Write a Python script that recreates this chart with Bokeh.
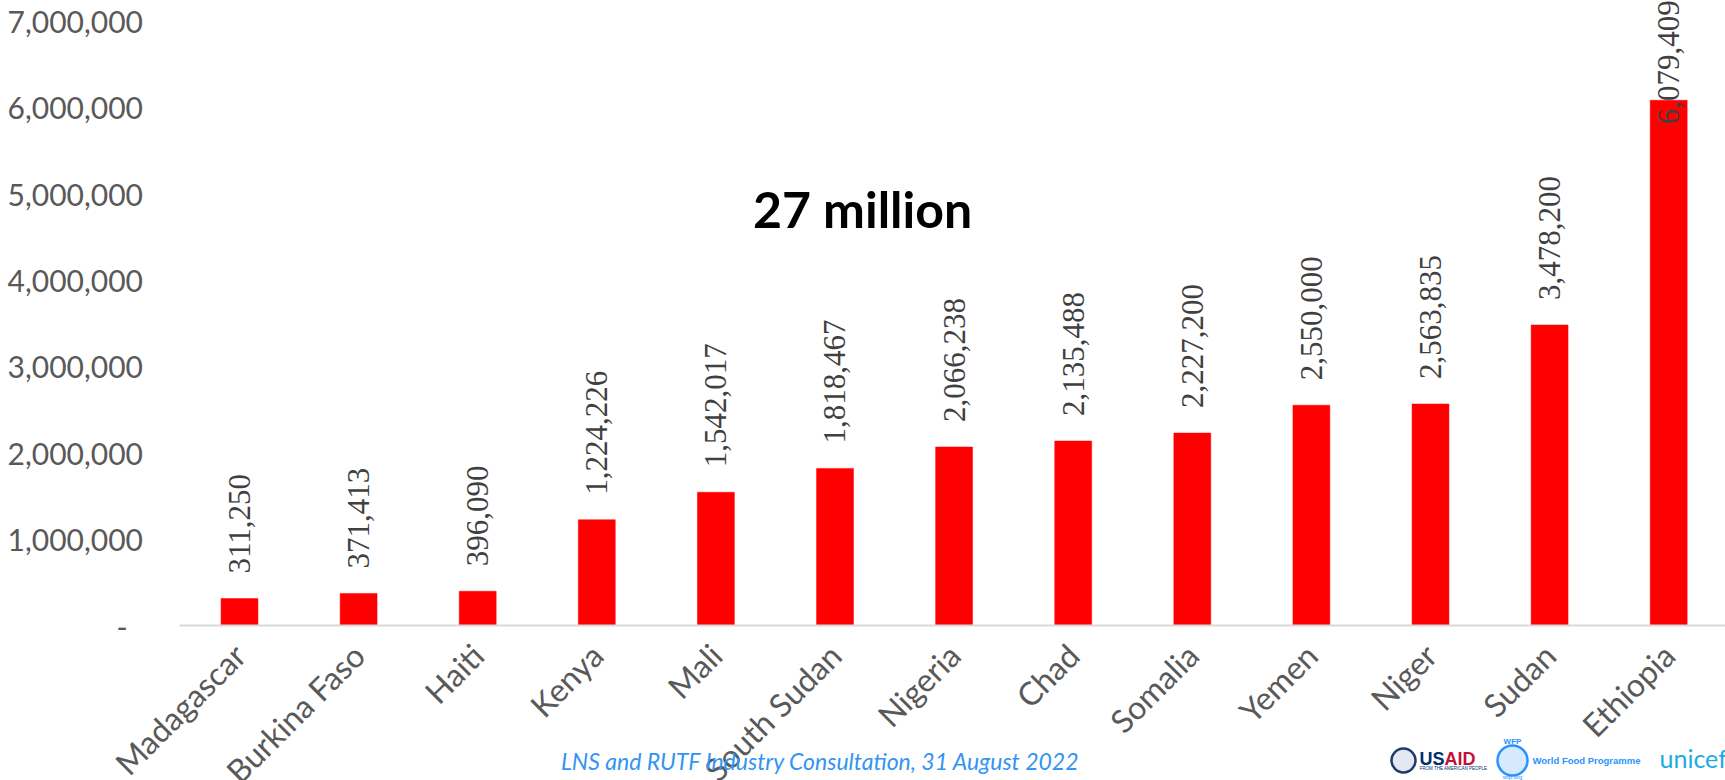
import math
from bokeh.plotting import figure
from bokeh.models import (Range1d, FixedTicker, NumeralTickFormatter, LabelSet,
                          Label, ColumnDataSource)
from bokeh.embed import file_html
from bokeh.resources import INLINE

# ---------------- data ----------------
countries = ["Madagascar", "Burkina Faso", "Haiti", "Kenya", "Mali", "South Sudan",
             "Nigeria", "Chad", "Somalia", "Yemen", "Niger", "Sudan", "Ethiopia"]
values = [311250, 371413, 396090, 1224226, 1542017, 1818467, 2066238,
          2135488, 2227200, 2550000, 2563835, 3478200, 6079409]
y_ticks = [0, 1000000, 2000000, 3000000, 4000000, 5000000, 6000000, 7000000]
total_text = "27 million"
footer_text = "LNS and RUTF Industry Consultation, 31 August 2022"

Y_MAX = 7000000
FONT = "Lato"

# ---------------- geometry (page pixels) ----------------
FIG_W, FIG_H = 1725, 780
PX0, STEP = 239.0, 119.1     # centre of first category, category spacing
PY0, PPM = 625.0, 86.4       # zero line, pixels per million


def dx(px):
    return (px - PX0) / STEP


def dy(py):
    return (PY0 - py) / PPM * 1e6


idx = list(range(len(countries)))
labels = [f"{v:,}" for v in values]
# labels that would run past the top of the axis are tucked into the bar
offsets = [-24 if v > 0.8 * Y_MAX else 25 for v in values]
src = ColumnDataSource(dict(x=idx, top=values, label=labels, off=offsets))

p = figure(width=FIG_W, height=FIG_H,
           x_range=Range1d(dx(0), dx(FIG_W)), y_range=Range1d(dy(FIG_H), dy(0)),
           output_backend="svg", toolbar_location=None,
           min_border_left=0, min_border_right=0, min_border_top=0,
           min_border_bottom=0)
p.outline_line_color = None
p.xgrid.visible = False
p.ygrid.visible = False
p.background_fill_color = "white"
p.border_fill_color = "white"

p.vbar(x="x", top="top", width=0.31, bottom=0, source=src,
       fill_color="#FF0000", line_color="#FF0000", line_width=0.5)

# y axis, drawn at the left edge of the category area
ya = p.yaxis[0]
ya.fixed_location = -0.5
ya.bounds = (0, Y_MAX)
ya.ticker = FixedTicker(ticks=y_ticks)
ya.formatter = NumeralTickFormatter(format="0,0")
ya.major_label_overrides = {0: "-\u00a0\u00a0"}
ya.axis_line_color = None
ya.major_tick_line_color = None
ya.minor_tick_line_color = None
ya.major_tick_out = 0
ya.major_tick_in = 0
ya.major_label_standoff = 37
ya.major_label_text_font = FONT
ya.major_label_text_font_size = "30px"
ya.major_label_text_color = "#595959"

# x axis, drawn on the zero line
xa = p.xaxis[0]
xa.fixed_location = 0
xa.bounds = (-0.5, dx(FIG_W))
xa.ticker = FixedTicker(ticks=idx)
xa.major_label_overrides = {i: c for i, c in zip(idx, countries)}
xa.axis_line_color = "#D9D9D9"
xa.axis_line_width = 2
xa.major_tick_line_color = None
xa.minor_tick_line_color = None
xa.major_tick_out = 0
xa.major_tick_in = 0
xa.major_label_standoff = 24
xa.major_label_orientation = math.pi / 4
xa.major_label_text_font = FONT
xa.major_label_text_font_size = "32px"
xa.major_label_text_color = "#595959"

# value labels
p.add_layout(LabelSet(x="x", y="top", text="label", y_offset="off", source=src,
                      angle=math.pi / 2, text_align="left", text_baseline="middle",
                      text_font=FONT, text_font_size="31px", text_color="#404040"))

p.add_layout(Label(x=dx(862), y=dy(208), text=total_text, text_align="center",
                   text_baseline="middle", text_font=FONT, text_font_style="bold",
                   text_font_size="50px", text_color="black"))

p.add_layout(Label(x=dx(820), y=dy(760), text=footer_text, text_align="center",
                   text_baseline="middle", text_font=FONT, text_font_style="italic",
                   text_font_size="23px", text_color="#3394F2"))

# partner marks
p.scatter(x=[dx(1403)], y=[dy(760)], size=24, marker="circle",
          fill_color="#E4E8F0", line_color="#1F3A6B", line_width=2.5)
p.scatter(x=[dx(1512)], y=[dy(760)], size=30, marker="circle",
          fill_color="#D6EAFE", line_color="#2A93FC", line_width=2.5)
p.add_layout(Label(x=dx(1419), y=dy(758), text="US", text_align="left",
                   text_baseline="middle", text_font="Liberation Sans",
                   text_font_style="bold", text_font_size="18px", text_color="#002F6C"))
p.add_layout(Label(x=dx(1444), y=dy(758), text="AID", text_align="left",
                   text_baseline="middle", text_font="Liberation Sans",
                   text_font_style="bold", text_font_size="18px", text_color="#C2113A"))
p.add_layout(Label(x=dx(1419), y=dy(768), text="FROM THE AMERICAN PEOPLE", text_align="left",
                   text_baseline="middle", text_font="Liberation Sans",
                   text_font_size="4.5px", text_color="#002F6C"))
p.add_layout(Label(x=dx(1512), y=dy(741), text="WFP", text_align="center",
                   text_baseline="middle", text_font="Liberation Sans",
                   text_font_style="bold", text_font_size="8px", text_color="#2A93FC"))
p.add_layout(Label(x=dx(1512), y=dy(776), text="wfp.org", text_align="center",
                   text_baseline="middle", text_font="Liberation Sans",
                   text_font_size="6px", text_color="#2A93FC"))
p.add_layout(Label(x=dx(1532), y=dy(760), text="World Food Programme", text_align="left",
                   text_baseline="middle", text_font="Liberation Sans",
                   text_font_style="bold", text_font_size="9.5px", text_color="#2A93FC"))
p.add_layout(Label(x=dx(1659), y=dy(757), text="unicef", text_align="left",
                   text_baseline="middle", text_font=FONT,
                   text_font_size="25px", text_color="#1CABE2"))

open("out.html", "w").write(file_html(p, INLINE))
